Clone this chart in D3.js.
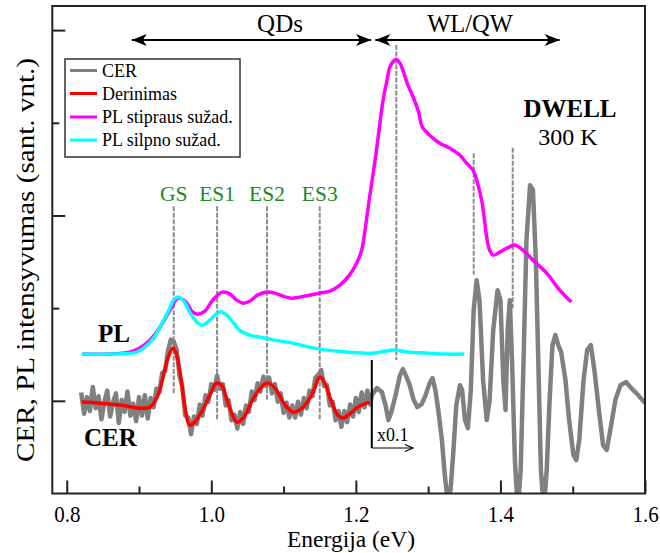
<!DOCTYPE html>
<html><head><meta charset="utf-8">
<script src="https://cdn.jsdelivr.net/npm/d3@7"></script>
<style>body{margin:0;background:#fff}</style>
</head><body><svg id="c" width="660" height="553"></svg>
<script>
// ---- data ----
const xTicksMajor=[0.8,1.0,1.2,1.4,1.6];
const xTicksMinor=[0.9,1.1,1.3,1.5];
const yTicksMajor=[0,2,4];
const yTicksMinor=[1,3];
const qdLevels=["GS","ES1","ES2","ES3"];
const qdEnergies=[0.948,1.008,1.077,1.150];
const qdLineBottoms=[0.08,-0.2,0.0,-0.2];
const wlEnergies=[1.256,1.363,1.417];
const wlLineTops=[3.84,2.67,2.73];
const wlLineBottoms=[0.44,1.36,1.0];
const legendLabels=["CER","Derinimas","PL stipraus sužad.","PL silpno sužad."];
const seriesColors=["#808080","#ff0000","#ff00ff","#00ffff"];

const cerLow=[[0.820,0.09],[0.824,-0.14],[0.828,0.04],[0.832,-0.11],[0.836,0.15],[0.840,-0.08],[0.844,0.05],[0.848,-0.20],[0.852,-0.01],[0.856,0.11],[0.860,-0.17],[0.864,-0.02],[0.868,0.08],[0.872,-0.24],[0.876,0.01],[0.880,-0.12],[0.884,0.10],[0.888,-0.16],[0.892,-0.03],[0.896,-0.22],[0.900,0.04],[0.904,-0.16],[0.908,0.06],[0.912,-0.19],[0.916,0.03],[0.920,-0.07],[0.924,0.13],[0.928,0.09],[0.932,0.30],[0.936,0.32],[0.940,0.54],[0.944,0.66],[0.948,0.64],[0.952,0.55],[0.956,0.27],[0.960,0.15],[0.964,-0.16],[0.968,-0.18],[0.972,-0.36],[0.976,-0.17],[0.980,-0.25],[0.984,-0.04],[0.988,-0.16],[0.992,0.06],[0.996,-0.01],[1.000,0.18],[1.004,0.12],[1.008,0.27],[1.012,0.13],[1.016,0.18],[1.020,-0.05],[1.024,0.01],[1.028,-0.21],[1.032,-0.15],[1.036,-0.30],[1.040,-0.12],[1.044,-0.25],[1.048,-0.05],[1.052,-0.12],[1.056,0.10],[1.060,0.01],[1.064,0.19],[1.068,0.10],[1.072,0.26],[1.076,0.16],[1.080,0.25],[1.084,0.08],[1.088,0.18],[1.092,-0.01],[1.096,0.08],[1.100,-0.13],[1.104,-0.02],[1.108,-0.18],[1.112,-0.05],[1.116,-0.18],[1.120,-0.01],[1.124,-0.15],[1.128,0.03],[1.132,-0.08],[1.136,0.11],[1.140,0.05],[1.144,0.25],[1.148,0.28],[1.152,0.33],[1.156,0.16],[1.160,0.17],[1.164,-0.05],[1.168,-0.01],[1.172,-0.21],[1.176,-0.11],[1.180,-0.28],[1.184,-0.11],[1.188,-0.23],[1.192,-0.04],[1.196,-0.17],[1.200,0.03],[1.204,-0.12],[1.208,0.09],[1.212,-0.07],[1.216,0.11],[1.220,-0.04]];

const cerHigh=[[1.222,0.062],[1.229,0.137],[1.236,0.094],[1.241,-0.046],[1.245,-0.208],[1.249,-0.122],[1.255,0.062],[1.261,0.277],[1.265,0.342],[1.269,0.277],[1.274,0.180],[1.280,0.008],[1.285,-0.068],[1.291,-0.035],[1.296,0.051],[1.302,0.191],[1.306,0.245],[1.310,0.115],[1.314,-0.100],[1.319,-0.423],[1.323,-0.801],[1.327,-1.07],[1.331,-0.96],[1.335,-0.53],[1.339,-0.046],[1.344,0.169],[1.347,0.115],[1.351,-0.208],[1.355,-0.294],[1.359,0.115],[1.363,0.978],[1.367,1.302],[1.371,1.086],[1.376,0.223],[1.381,-0.208],[1.385,0.008],[1.390,0.762],[1.396,1.193],[1.400,1.086],[1.404,0.223],[1.407,-0.100],[1.410,0.762],[1.413,1.086],[1.416,0.439],[1.420,-0.639],[1.424,-1.18],[1.428,-0.747],[1.432,0.439],[1.436,1.733],[1.441,2.326],[1.445,2.272],[1.449,1.517],[1.453,0.223],[1.456,-0.747],[1.460,-1.18],[1.464,-0.747],[1.468,0.008],[1.472,0.601],[1.476,0.709],[1.480,0.601],[1.484,0.525],[1.490,0.223],[1.495,-0.208],[1.501,-0.585],[1.505,-0.639],[1.509,-0.423],[1.515,0.223],[1.520,0.547],[1.525,0.601],[1.530,0.331],[1.537,-0.154],[1.542,-0.478],[1.547,-0.531],[1.552,-0.316],[1.559,0.008],[1.566,0.169],[1.574,0.202],[1.581,0.137],[1.588,0.083],[1.600,-0.025]];

const fitCurve=[[0.821,-0.014],[0.846,-0.025],[0.874,-0.046],[0.901,-0.079],[0.915,-0.068],[0.925,0.040],[0.933,0.245],[0.940,0.461],[0.947,0.569],[0.952,0.493],[0.958,0.245],[0.963,-0.046],[0.970,-0.262],[0.977,-0.230],[0.988,-0.100],[0.998,0.061],[1.007,0.191],[1.014,0.170],[1.023,-0.025],[1.030,-0.165],[1.035,-0.230],[1.044,-0.187],[1.057,0.008],[1.068,0.137],[1.078,0.191],[1.088,0.137],[1.102,-0.046],[1.113,-0.122],[1.122,-0.100],[1.132,-0.025],[1.142,0.115],[1.150,0.256],[1.157,0.191],[1.167,-0.025],[1.175,-0.154],[1.182,-0.187],[1.191,-0.143],[1.205,-0.057],[1.219,-0.014]];

const plStrong=[[0.821,0.504],[0.860,0.504],[0.887,0.525],[0.901,0.569],[0.915,0.654],[0.929,0.795],[0.943,0.978],[0.954,1.108],[0.965,1.065],[0.973,0.967],[0.981,0.935],[0.991,0.967],[1.002,1.086],[1.015,1.173],[1.026,1.151],[1.035,1.086],[1.044,1.054],[1.053,1.075],[1.064,1.140],[1.077,1.173],[1.088,1.162],[1.099,1.129],[1.111,1.108],[1.122,1.119],[1.136,1.140],[1.150,1.162],[1.164,1.183],[1.178,1.248],[1.191,1.356],[1.201,1.485],[1.208,1.626],[1.214,1.917],[1.219,2.198],[1.226,2.564],[1.232,2.920],[1.237,3.211],[1.243,3.459],[1.247,3.600],[1.252,3.664],[1.256,3.686],[1.261,3.643],[1.265,3.567],[1.272,3.406],[1.277,3.319],[1.286,3.136],[1.292,2.953],[1.302,2.866],[1.316,2.780],[1.330,2.726],[1.344,2.650],[1.353,2.564],[1.362,2.489],[1.368,2.359],[1.374,2.165],[1.378,1.949],[1.381,1.766],[1.385,1.626],[1.390,1.572],[1.399,1.604],[1.409,1.647],[1.420,1.680],[1.431,1.626],[1.445,1.518],[1.464,1.378],[1.482,1.194],[1.498,1.065]];

const plWeak=[[0.821,0.504],[0.860,0.504],[0.897,0.525],[0.908,0.579],[0.918,0.654],[0.929,0.795],[0.940,0.957],[0.948,1.086],[0.954,1.119],[0.962,1.076],[0.970,0.957],[0.979,0.859],[0.987,0.815],[0.998,0.870],[1.008,0.945],[1.015,0.956],[1.023,0.913],[1.031,0.838],[1.039,0.763],[1.053,0.709],[1.067,0.687],[1.088,0.655],[1.113,0.622],[1.136,0.579],[1.160,0.547],[1.191,0.525],[1.226,0.515],[1.251,0.547],[1.274,0.525],[1.298,0.515],[1.323,0.504],[1.350,0.504]];

// ---- layout ----
const FONT="'Liberation Serif'";
const svg=d3.select("#c");
const L=52.3,R=645,T=6,B=493.5;
const x=d3.scaleLinear().domain([0.78,1.6]).range([L,R]);
const y=d3.scaleLinear().domain([-1,4.26]).range([B,T]);

const defs=svg.append("defs");
defs.append("clipPath").attr("id","clip")
  .append("rect").attr("x",L).attr("y",T).attr("width",R-L).attr("height",B-T);
defs.append("marker").attr("id","bigArrow").attr("viewBox","-16 -8 18 16")
  .attr("refX",0).attr("refY",0).attr("markerWidth",18).attr("markerHeight",16)
  .attr("markerUnits","userSpaceOnUse").attr("orient","auto-start-reverse")
  .append("path").attr("d","M0,0 L-15,-6 L-11,0 L-15,6 Z").attr("fill","#000");
defs.append("marker").attr("id","smallArrow").attr("viewBox","-10 -6 12 12")
  .attr("refX",0).attr("refY",0).attr("markerWidth",12).attr("markerHeight",12)
  .attr("markerUnits","userSpaceOnUse").attr("orient","auto")
  .append("path").attr("d","M-8,-3.5 L0,0 L-8,3.5").attr("fill","none").attr("stroke","#000").attr("stroke-width",1.2);

const plot=svg.append("g").attr("clip-path","url(#clip)");
const line=d3.line().x(d=>x(d[0])).y(d=>y(d[1])).curve(d3.curveCatmullRom.alpha(0.5));
const lineLin=d3.line().x(d=>x(d[0])).y(d=>y(d[1]));

const dashG=plot.append("g").attr("stroke","#8c8c8c").attr("stroke-width",2).attr("stroke-dasharray","5,1.5");
qdEnergies.forEach((e,i)=>{
  dashG.append("line").attr("x1",x(e)).attr("x2",x(e)).attr("y1",y(2.1)).attr("y2",y(qdLineBottoms[i]));
});
wlEnergies.forEach((e,i)=>{
  dashG.append("line").attr("x1",x(e)).attr("x2",x(e)).attr("y1",y(wlLineTops[i])).attr("y2",y(wlLineBottoms[i]));
});

plot.append("path").datum(cerLow.concat(cerHigh)).attr("d",lineLin)
  .attr("fill","none").attr("stroke",seriesColors[0]).attr("stroke-width",4.5).attr("stroke-linejoin","round");
plot.append("path").datum(fitCurve).attr("d",line)
  .attr("fill","none").attr("stroke",seriesColors[1]).attr("stroke-width",3.5);
plot.append("path").datum(plStrong).attr("d",line)
  .attr("fill","none").attr("stroke",seriesColors[2]).attr("stroke-width",3.5);
plot.append("path").datum(plWeak).attr("d",line)
  .attr("fill","none").attr("stroke",seriesColors[3]).attr("stroke-width",3.5);

// axes
const ax=svg.append("g").attr("transform",`translate(0,${B})`)
  .call(d3.axisBottom(x).tickValues(xTicksMajor).tickSize(-13).tickPadding(14).tickFormat(d3.format(".1f")));
svg.append("g").attr("transform",`translate(0,${B})`)
  .call(d3.axisBottom(x).tickValues(xTicksMinor).tickSize(-7).tickFormat(""));
svg.append("g").attr("transform",`translate(${L},0)`)
  .call(d3.axisLeft(y).tickValues(yTicksMajor).tickSize(-13).tickFormat(""));
svg.append("g").attr("transform",`translate(${L},0)`)
  .call(d3.axisLeft(y).tickValues(yTicksMinor).tickSize(-7).tickFormat(""));
svg.selectAll(".domain").remove();
svg.selectAll(".tick line").attr("stroke","#222").attr("stroke-width",2);
ax.attr("font-family",FONT);
ax.selectAll(".tick text").each(function(){
  const t=d3.select(this);
  const yy=+t.attr("y");
  t.attr("y",null).attr("dy",null).attr("font-size",21).attr("fill","#000").attr("font-family",FONT)
   .attr("transform",`translate(0,${yy+14.5}) scale(1,1.12)`);
});
svg.append("rect").attr("x",L).attr("y",T).attr("width",R-L).attr("height",B-T)
  .attr("fill","none").attr("stroke","#222").attr("stroke-width",2);

function txt(xp,yp,s,size,opts={}){
  const sy=opts.sy||1;
  const t=svg.append("text").attr("transform",`translate(${xp},${yp}) scale(1,${sy})`)
    .attr("font-size",size).attr("font-family",FONT)
    .attr("fill",opts.fill||"#000").text(s);
  if(opts.anchor) t.attr("text-anchor",opts.anchor);
  if(opts.bold) t.attr("font-weight","bold");
  return t;
}

txt(351,547,"Energija (eV)",23.5,{anchor:"middle"});
svg.append("text").attr("transform",`translate(34,${260}) rotate(-90) scale(1.12,1)`).attr("text-anchor","middle")
  .attr("font-family",FONT).attr("font-size",26).attr("fill","#000").text("CER, PL intensyvumas (sant. vnt.)");

qdLevels.forEach((t,i)=>{ txt(x(qdEnergies[i]),201,t,21.5,{anchor:"middle",fill:"#1e8a1e"}); });

svg.append("line").attr("x1",x(0.89)).attr("x2",x(1.221)).attr("y1",40).attr("y2",40)
  .attr("stroke","#000").attr("stroke-width",2).attr("marker-start","url(#bigArrow)").attr("marker-end","url(#bigArrow)");
svg.append("line").attr("x1",x(1.227)).attr("x2",x(1.482)).attr("y1",40).attr("y2",40)
  .attr("stroke","#000").attr("stroke-width",2).attr("marker-start","url(#bigArrow)").attr("marker-end","url(#bigArrow)");
txt(280,32,"QDs",25,{anchor:"middle"});
txt(470,32,"WL/QW",24.5,{anchor:"middle"});

txt(570,117,"DWELL",25,{anchor:"middle",bold:true});
txt(568,145,"300 K",24,{anchor:"middle"});

txt(98,342,"PL",25,{bold:true});
txt(84,446,"CER",25,{bold:true});

svg.append("line").attr("x1",x(1.222)).attr("x2",x(1.222)).attr("y1",360).attr("y2",448).attr("stroke","#000").attr("stroke-width",2);
svg.append("line").attr("x1",x(1.222)).attr("x2",x(1.279)).attr("y1",448).attr("y2",448).attr("stroke","#000").attr("stroke-width",1.2).attr("marker-end","url(#smallArrow)");
txt(377,441,"x0.1",18);

const lg=svg.append("g");
lg.append("rect").attr("x",65).attr("y",59).attr("width",175).attr("height",98).attr("fill","#fff").attr("stroke","#333").attr("stroke-width",1.5);
const ly=[70.5,93.5,117,140];
legendLabels.forEach((t,i)=>{
  lg.append("line").attr("x1",70).attr("x2",97).attr("y1",ly[i]).attr("y2",ly[i]).attr("stroke",seriesColors[i]).attr("stroke-width",3);
  lg.append("text").attr("x",102).attr("y",ly[i]).attr("dy","0.35em").attr("font-family",FONT).attr("font-size",18).attr("fill","#000").text(t);
});
</script></body></html>
